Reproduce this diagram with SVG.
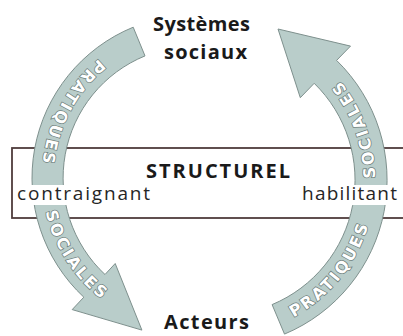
<svg xmlns="http://www.w3.org/2000/svg" width="403" height="336" viewBox="0 0 403 336">
<defs>
<style>
.band{fill:#b9cdca;stroke:#7e908d;stroke-width:1}
.bandtxt{font-family:"DejaVu Sans",sans-serif;font-weight:bold;font-size:16px;fill:#ffffff;stroke:#6f807d;stroke-width:1.5;paint-order:stroke;letter-spacing:2.5px}
.title{font-family:"Open Sans","Liberation Sans",sans-serif;font-weight:bold;font-size:20px;fill:#1a1a1a}
.side{font-family:"Open Sans","Liberation Sans",sans-serif;font-size:19px;fill:#262626}
</style>
<path id="pl" d="M 142.7 34.2 A 153 153 0 0 0 107.2 303.3" fill="none"/>
<path id="pr" d="M 273.4 326.6 A 157 157 0 0 0 320.3 60.5" fill="none"/>
</defs>
<rect width="403" height="336" fill="#ffffff"/>
<g id="structurel">
<rect x="12" y="148" width="400" height="70" fill="#ffffff" stroke="#4f3c3c" stroke-width="1.8"/>
</g>
<g id="connectors">
<path class="band" d="M 133.2 27.2 A 163 163 0 0 0 83.8 297.2 L 72.2 309.6 L 141.9 330.1 L 115.2 263.5 L 105 274.5 A 132 132 0 0 1 145 55.9 Z"/>
<path class="band" d="M 284.5 334.1 A 167 167 0 0 0 336.6 60.4 L 350.5 46.1 L 278 29 L 300.3 97.7 L 314.2 83.3 A 135 135 0 0 1 272.1 304.6 Z"/>
<text class="bandtxt" text-anchor="middle"><textPath href="#pl" startOffset="33.6%">PRATIQUES</textPath></text>
<text class="bandtxt" text-anchor="middle"><textPath href="#pl" startOffset="82.4%">SOCIALES</textPath></text>
<text class="bandtxt" text-anchor="middle"><textPath href="#pr" startOffset="25.8%">PRATIQUES</textPath></text>
<text class="bandtxt" text-anchor="middle"><textPath href="#pr" startOffset="75.4%">SOCIALES</textPath></text>
</g>
<g id="structurel-labels">
<rect x="15" y="185" width="137" height="20" fill="#ffffff"/>
<rect x="300" y="185" width="100" height="20" fill="#ffffff"/>
<text class="title" x="146" y="178" font-size="19" textLength="144" lengthAdjust="spacing">STRUCTUREL</text>
<text class="side" x="17" y="200" textLength="133" lengthAdjust="spacing">contraignant</text>
<text class="side" x="302" y="200" textLength="95" lengthAdjust="spacing">habilitant</text>
</g>
<g id="systemes">
<text class="title" x="153" y="31" textLength="97" lengthAdjust="spacing">Systèmes</text>
<text class="title" x="164" y="59" textLength="83" lengthAdjust="spacing">sociaux</text>
</g>
<g id="acteurs">
<text class="title" x="164" y="329" textLength="85" lengthAdjust="spacing">Acteurs</text>
</g>
</svg>
